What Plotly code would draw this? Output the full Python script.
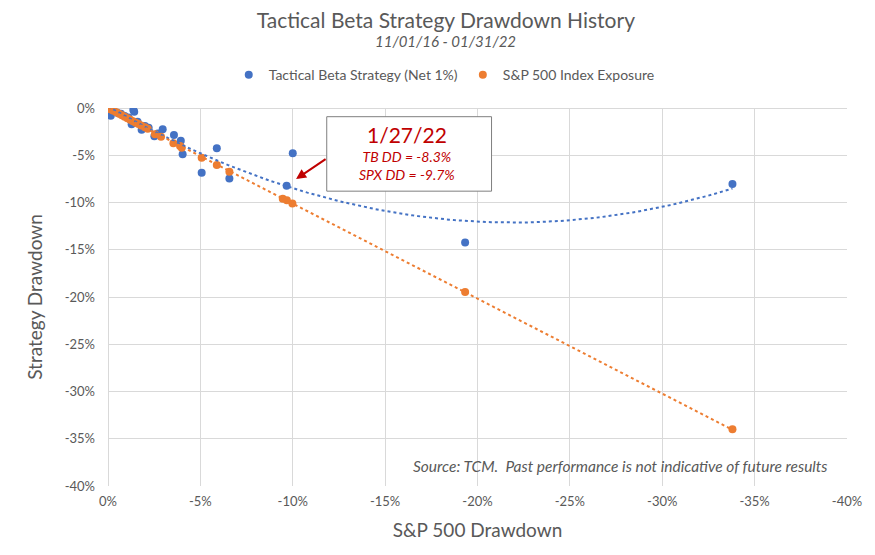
import numpy as np
import plotly.graph_objects as go

# ---------------------------------------------------------------
# Data (drawdowns in %)
# ---------------------------------------------------------------
# Tactical Beta Strategy (Net 1%): x = S&P 500 drawdown, y = strategy drawdown
tb_spx_dd = [0.0, -0.1, -0.15, -0.3, -0.5, -0.7, -0.9, -1.1, -1.28, -1.37, -1.42,
             -1.6, -1.82, -2.0, -2.2, -2.51, -2.7, -2.96, -3.57, -3.94, -4.04,
             -5.07, -5.89, -6.57, -9.67, -10.0, -19.33, -33.8]
tb_strat_dd = [0.0, -0.1, -0.82, -0.35, -0.5, -0.6, -0.85, -1.0, -1.73, -0.21, -0.39,
               -1.45, -2.30, -1.9, -2.1, -3.0, -2.7, -2.26, -2.86, -3.46, -4.90,
               -6.85, -4.27, -7.45, -8.23, -4.80, -14.23, -8.05]

# S&P 500 Index Exposure
sp_spx_dd = [0.0, -0.1, -0.2, -0.3, -0.45, -0.6, -0.75, -0.9, -1.05, -1.2, -1.35,
             -1.5, -1.65, -1.8, -2.0, -2.15, -2.54, -2.87, -3.54, -3.9, -3.99,
             -5.07, -5.89, -6.57, -9.46, -9.68, -9.98, -19.33, -33.8]
sp_strat_dd = [0.0, -0.1, -0.2, -0.3, -0.45, -0.62, -0.78, -0.93, -1.08, -1.24, -1.4,
               -1.55, -1.7, -1.86, -2.05, -2.2, -2.79, -3.04, -3.74, -4.03, -4.2,
               -5.26, -6.04, -6.75, -9.6, -9.75, -10.1, -19.46, -34.0]

tick_vals = [0, -5, -10, -15, -20, -25, -30, -35, -40]
tick_labels = ["0%", "-5%", "-10%", "-15%", "-20%", "-25%", "-30%", "-35%", "-40%"]

BLUE = "#4472C4"
ORANGE = "#ED7D31"
GREY = "#595959"
RED = "#C00000"
FONT = "Lato"

# trendlines like Excel: polynomial (2) for the strategy, linear for the index
tb_fit = np.polyfit(tb_spx_dd, tb_strat_dd, 2)
sp_fit = np.polyfit(sp_spx_dd, sp_strat_dd, 1)
tb_xs = np.linspace(max(tb_spx_dd), min(tb_spx_dd), 120)
sp_xs = np.linspace(max(sp_spx_dd), min(sp_spx_dd), 120)

fig = go.Figure()

fig.add_trace(go.Scatter(
    x=tb_spx_dd, y=tb_strat_dd, mode="markers",
    name="Tactical Beta Strategy (Net 1%)",
    marker=dict(color=BLUE, size=8),
))
fig.add_trace(go.Scatter(
    x=sp_spx_dd, y=sp_strat_dd, mode="markers",
    name="S&P 500 Index Exposure",
    marker=dict(color=ORANGE, size=8),
))
fig.add_trace(go.Scatter(
    x=tb_xs, y=np.polyval(tb_fit, tb_xs), mode="lines",
    line=dict(color=BLUE, width=2, dash="dot"),
    showlegend=False, hoverinfo="skip",
))
fig.add_trace(go.Scatter(
    x=sp_xs, y=np.polyval(sp_fit, sp_xs), mode="lines",
    line=dict(color=ORANGE, width=2, dash="dot"),
    showlegend=False, hoverinfo="skip",
))

# callout box
fig.add_shape(type="rect", xref="paper", yref="paper",
              x0=0.296, x1=0.519, y0=0.780, y1=0.977,
              line=dict(color="#7F7F7F", width=1), fillcolor="white", layer="above")
fig.add_annotation(xref="paper", yref="paper", x=0.405, y=0.930,
                   xanchor="center", yanchor="middle",
                   text="1/27/22", showarrow=False,
                   font=dict(family=FONT, size=21, color=RED))
fig.add_annotation(xref="paper", yref="paper", x=0.405, y=0.848,
                   xanchor="center", yanchor="middle",
                   text="<i>TB DD = -8.3%</i><br><i>SPX DD = -9.7%</i>", showarrow=False,
                   font=dict(family=FONT, size=14, color=RED))
fig.add_annotation(x=-10.18, y=-7.52, text="", showarrow=True,
                   ax=31, ay=-21, arrowhead=2, arrowsize=1, arrowwidth=2,
                   arrowcolor=RED, standoff=0)

# source note
fig.add_annotation(xref="paper", yref="paper", x=0.977, y=0.052,
                   xanchor="right", yanchor="middle", showarrow=False,
                   text="<i>Source: TCM.  Past performance is not indicative of future results</i>",
                   font=dict(family=FONT, size=15.5, color=GREY))

# subtitle
fig.add_annotation(xref="paper", yref="paper", x=0.457, y=1.177,
                   xanchor="center", yanchor="middle", showarrow=False,
                   text="<i>11/01/16 - 01/31/22</i>",
                   font=dict(family=FONT, size=15, color=GREY))

fig.update_layout(
    width=867, height=547,
    margin=dict(l=100, r=28, t=100, b=69),
    paper_bgcolor="white", plot_bgcolor="white",
    font=dict(family=FONT, color=GREY, size=13),
    title=dict(text="Tactical Beta Strategy Drawdown History",
               x=0.505, xanchor="center", y=0.976, yanchor="middle",
               font=dict(family=FONT, size=21, color=GREY)),
    legend=dict(orientation="h", x=0.455, xanchor="center", y=1.087, yanchor="middle",
                font=dict(family=FONT, size=14, color=GREY), itemwidth=30),
)

fig.update_xaxes(
    range=[0, -40], tickvals=tick_vals, ticktext=tick_labels,
    showgrid=True, gridcolor="#D9D9D9", gridwidth=1,
    zeroline=True, zerolinecolor="#D9D9D9", zerolinewidth=1,
    showline=False, ticks="", ticklabelstandoff=6, tickfont=dict(size=13, color=GREY),
    title=dict(text="S&P 500 Drawdown", font=dict(size=19, color=GREY), standoff=15),
)
fig.update_yaxes(
    range=[-40, 0], tickvals=tick_vals, ticktext=tick_labels,
    showgrid=True, gridcolor="#D9D9D9", gridwidth=1,
    zeroline=True, zerolinecolor="#D9D9D9", zerolinewidth=1,
    showline=False, ticks="", ticklabelstandoff=12, tickfont=dict(size=13, color=GREY),
    title=dict(text="Strategy Drawdown", font=dict(size=19, color=GREY), standoff=17),
)

fig.write_html("out.html")
